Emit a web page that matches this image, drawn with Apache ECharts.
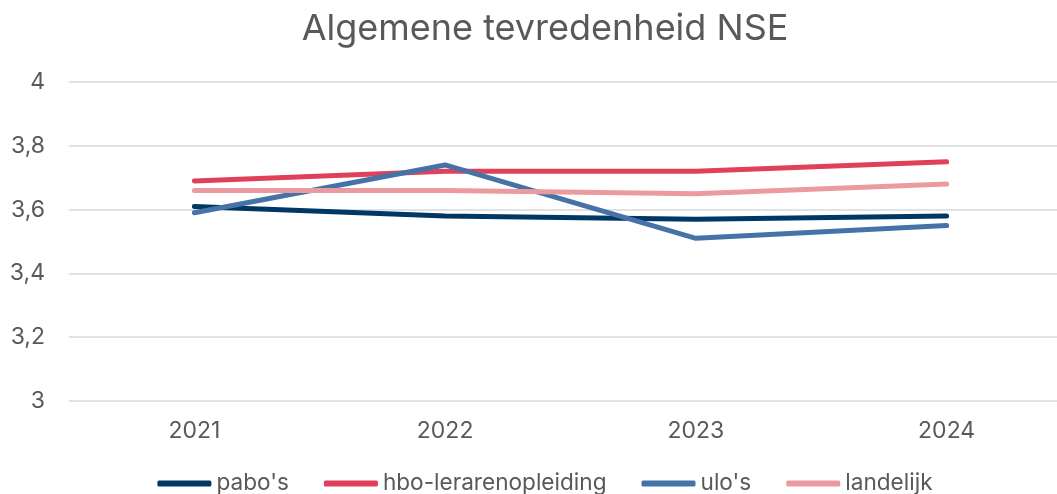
<!DOCTYPE html>
<html>
<head>
<meta charset="utf-8">
<script src="https://cdn.jsdelivr.net/npm/echarts@6/dist/echarts.min.js"></script>
<style>
  html, body { margin: 0; padding: 0; overflow: hidden; background: #fff; }
  #wrap { width: 1057px; height: 494px; overflow: hidden; position: relative; }
  #myEcharts { width: 1090px; height: 494px; }
</style>
</head>
<body>
<div id="wrap"><div id="myEcharts"></div></div>
<script>
const years = ['2021', '2022', '2023', '2024'];
const pabos = [3.61, 3.58, 3.57, 3.58];
const hboLeraren = [3.69, 3.72, 3.72, 3.75];
const ulos = [3.59, 3.74, 3.51, 3.55];
const landelijk = [3.66, 3.66, 3.65, 3.68];

const font = 'Inter, "Noto Sans", sans-serif';
const textColor = '#595959';

const mkLine = (name, data, color) => ({
  name: name,
  type: 'line',
  data: data,
  symbol: 'none',
  lineStyle: { width: 5, color: color, cap: 'round', join: 'round' },
  itemStyle: { color: color }
});

let chart = echarts.init(document.getElementById('myEcharts'));

chart.setOption({
  animation: false,
  title: {
    text: 'Algemene tevredenheid NSE',
    left: 'center',
    top: 6,
    textStyle: { color: textColor, fontSize: 36, fontWeight: 'normal', fontFamily: font }
  },
  legend: {
    top: 467,
    left: 'center',
    icon: 'roundRect',
    itemWidth: 54,
    itemHeight: 6,
    itemGap: 35,
    textStyle: { color: textColor, fontSize: 22.6, fontFamily: font },
    data: ["pabo's", 'hbo-lerarenopleiding', "ulo's", 'landelijk']
  },
  grid: { left: 69, right: 18, top: 82, bottom: 93, containLabel: false },
  xAxis: {
    type: 'category',
    data: years,
    axisLine: { show: false },
    axisTick: { show: false },
    axisLabel: { color: textColor, fontSize: 23, fontFamily: font, margin: 19 }
  },
  yAxis: {
    type: 'value',
    min: 3,
    max: 4,
    interval: 0.2,
    axisLine: { show: false },
    axisTick: { show: false },
    splitLine: { lineStyle: { color: '#d9d9d9', width: 1.5 } },
    axisLabel: {
      color: textColor, fontSize: 23, fontFamily: font, margin: 24,
      formatter: v => String(+v.toFixed(1)).replace('.', ',')
    }
  },
  series: [
    mkLine("pabo's", pabos, '#003763'),
    mkLine('hbo-lerarenopleiding', hboLeraren, '#e0405a'),
    mkLine("ulo's", ulos, '#4673a7'),
    mkLine('landelijk', landelijk, '#eb9b9f')
  ]
});

window.onresize = function () {
  chart.resize();
};
</script>
</body>
</html>
